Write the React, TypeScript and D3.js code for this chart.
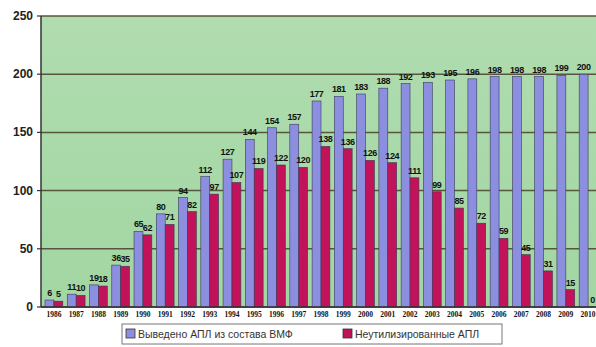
import React from "react";
import * as d3 from "d3";

const years = ["1986","1987","1988","1989","1990","1991","1992","1993","1994","1995","1996","1997","1998","1999","2000","2001","2002","2003","2004","2005","2006","2007","2008","2009","2010"];
const decommissioned = [6,11,19,36,65,80,94,112,127,144,154,157,177,181,183,188,192,193,195,196,198,198,198,199,200];
const notDisposed = [5,10,18,35,62,71,82,97,107,119,122,120,138,136,126,124,111,99,85,72,59,45,31,15,0];
const yTicks = [0,50,100,150,200,250];
const seriesNames = ["Выведено АПЛ из состава ВМФ", "Неутилизированные АПЛ"];
const colors = ["#8c8fe0", "#c2125a"];

export default function App() {
  const W = 596, H = 347;
  const left = 41, right = 601, top = 16, bottom = 307;
  const x = d3.scaleBand<string>().domain(years).range([left, right]).paddingInner(0.2).paddingOuter(0.18);
  const x1 = d3.scaleBand<number>().domain([0, 1]).range([0, x.bandwidth()]);
  const y = d3.scaleLinear().domain([0, 250]).range([bottom, top]);
  const series = [decommissioned, notDisposed];
  return (
    <svg width={W} height={H} style={{ position: "absolute", left: 0, top: 0, background: "#fff" }}>
      <defs>
        <linearGradient id="bg" x1="0" y1="0" x2="0" y2="1">
          <stop offset="0" stopColor="#b0dcb0" />
          <stop offset="1" stopColor="#a2d6a2" />
        </linearGradient>
      </defs>
      <rect x={left} y={top} width={right - left} height={bottom - top} fill="url(#bg)" />
      {yTicks.map(t => (
        <g key={t}>
          <line x1={left} x2={right} y1={y(t)} y2={y(t)} stroke="#56563e" strokeWidth={1.5} />
          <line x1={left - 4} x2={left} y1={y(t)} y2={y(t)} stroke="#333" strokeWidth={1.2} />
          <text x={left - 8} y={y(t) + 4} textAnchor="end" fontFamily="Arial, Liberation Sans, sans-serif" fontWeight="bold" fontSize={12} fill="#222">{t}</text>
        </g>
      ))}
      {years.map((yr, i) => (
        <g key={yr}>
          {series.map((s, k) => {
            const bx = (x(yr) as number) + (x1(k) as number);
            const bw = x1.bandwidth();
            const v = s[i];
            return (
              <g key={k}>
                {v > 0 && (
                  <rect x={bx} y={y(v)} width={bw} height={y(0) - y(v)} fill={colors[k]} stroke="#3a3a5a" strokeWidth={0.6} />
                )}
                <text x={bx + bw / 2} y={y(v) - 4} textAnchor="middle" fontFamily="Arial, Liberation Sans, sans-serif" fontWeight="bold" fontSize={9} letterSpacing={-0.4} fill="#111">{v}</text>
              </g>
            );
          })}
          <text x={(x(yr) as number) + x.bandwidth() / 2} y={bottom + 10} textAnchor="middle" fontFamily="Liberation Serif, Times New Roman, serif" fontWeight="bold" fontSize={7.5} fill="#111">{yr}</text>
        </g>
      ))}
      <line x1={left} x2={left} y1={top} y2={bottom} stroke="#333" strokeWidth={1.5} />
      <line x1={left} x2={right} y1={bottom} y2={bottom} stroke="#333" strokeWidth={1.5} />
      <g>
        <rect x={122} y={324} width={380} height={20} fill="#fff" stroke="#777" strokeWidth={1} />
        <rect x={126} y={329} width={9} height={9} fill={colors[0]} stroke="#333" strokeWidth={0.8} />
        <text x={138} y={337.5} fontFamily="Arial, Liberation Sans, sans-serif" fontSize={10.5} fill="#333">{seriesNames[0]}</text>
        <rect x={343} y={329} width={9} height={9} fill={colors[1]} stroke="#333" strokeWidth={0.8} />
        <text x={355} y={337.5} fontFamily="Arial, Liberation Sans, sans-serif" fontSize={10.5} fill="#333">{seriesNames[1]}</text>
      </g>
    </svg>
  );
}
